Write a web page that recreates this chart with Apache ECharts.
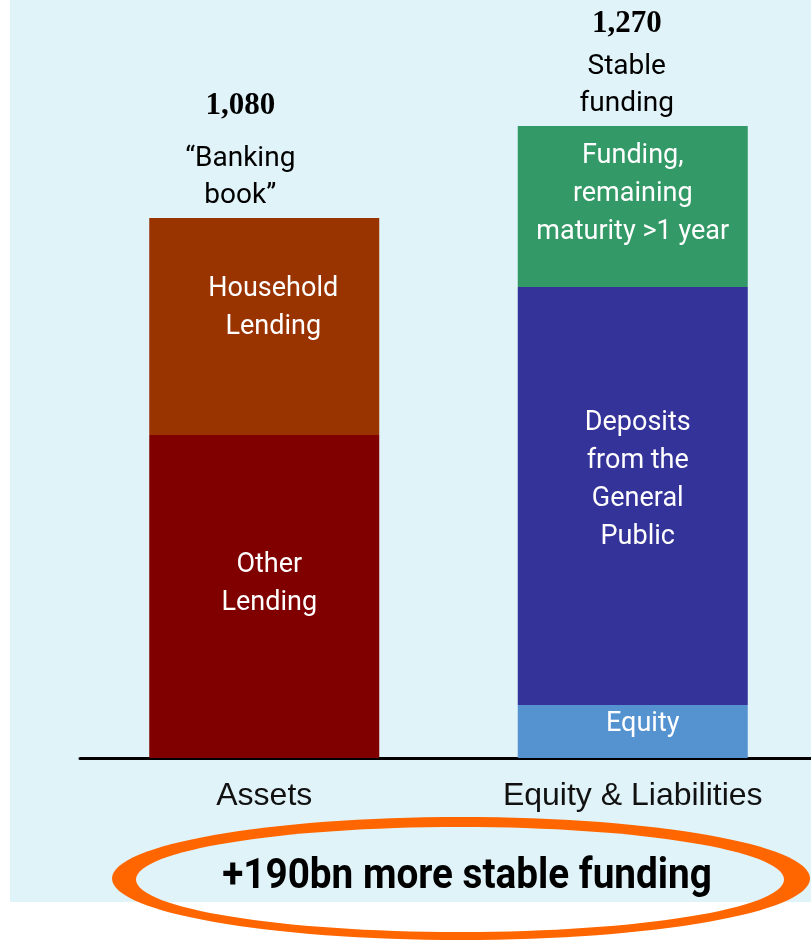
<!DOCTYPE html>
<html>
<head>
<meta charset="utf-8">
<script src="https://cdn.jsdelivr.net/npm/echarts@6/dist/echarts.min.js"></script>
<style>
  html, body { margin: 0; padding: 0; background: #fff; overflow: hidden; }
  #main { width: 820px; height: 941px; }
</style>
</head>
<body>
<div id="main"></div>
<script>
// balance sheet columns
const categories = ['Assets', 'Equity & Liabilities'];
const totals = ['1,080', '1,270'];
const totalCaptions = ['\u201cBanking\nbook\u201d', 'Stable\nfunding'];

// stacked segments, bottom to top (bn)
const otherLending = [646, '-'];
const householdLending = [434, '-'];
const equity = ['-', 106];
const deposits = ['-', 836];
const longFunding = ['-', 322];

const segmentNames = ['Other\nLending', 'Household\nLending', 'Equity',
  'Deposits\nfrom the\nGeneral\nPublic', 'Funding,\nremaining\nmaturity >1 year'];
const callout = '+190bn more stable funding';

const BG = '#e0f3f8';
const sansFont = 'Roboto, "Liberation Sans", sans-serif';

function num(v) { return v === '-' ? 0 : v; }
const stackTops = categories.map(function (c, i) {
  return num(otherLending[i]) + num(householdLending[i]) + num(equity[i]) +
    num(deposits[i]) + num(longFunding[i]);
});

function inner(text, offset) {
  return {
    show: true, position: 'inside', color: '#fff', formatter: text,
    fontFamily: sansFont, fontSize: 27, lineHeight: 38, offset: offset
  };
}

// bold total + caption sitting on top of each stack
const topLabelStyle = [{ firstLine: 69, dx: -24 }, { firstLine: 49, dx: -6 }];
const topLabels = stackTops.map(function (v, i) {
  return {
    value: v,
    label: {
      show: true, position: 'top', distance: 4, offset: [topLabelStyle[i].dx, 0],
      formatter: '{n|' + totals[i] + '}\n' +
        totalCaptions[i].split('\n').map(function (s) { return '{t|' + s + '}'; }).join('\n'),
      rich: {
        n: { fontFamily: '"Liberation Serif", serif', fontWeight: 'bold', fontSize: 31,
             color: '#000', lineHeight: topLabelStyle[i].firstLine },
        t: { fontFamily: sansFont, fontSize: 28, color: '#000', lineHeight: 37 }
      }
    }
  };
});

const chart = echarts.init(document.getElementById('main'));
chart.setOption({
  animation: false,
  backgroundColor: '#fff',
  grid: { left: 80, width: 737, top: 58, bottom: 183 },
  xAxis: {
    type: 'category', data: categories,
    axisLine: { lineStyle: { color: '#000', width: 3 } },
    axisTick: { show: false },
    axisLabel: { color: '#111', fontFamily: '"Liberation Sans", Arial, sans-serif',
                 fontSize: 32, margin: 22 }
  },
  yAxis: { type: 'value', min: 0, max: 1400, show: false, splitLine: { show: false } },
  series: [
    { name: 'other', type: 'bar', stack: 'bs', barWidth: 230, data: otherLending,
      itemStyle: { color: '#800000' }, label: inner(segmentNames[0], [5, -12]) },
    { name: 'household', type: 'bar', stack: 'bs', barWidth: 230, data: householdLending,
      itemStyle: { color: '#993300' }, label: inner(segmentNames[1], [9, -18]) },
    { name: 'equity', type: 'bar', stack: 'bs', barWidth: 230, data: equity,
      itemStyle: { color: '#5593d0' }, label: inner(segmentNames[2], [10, -7]) },
    { name: 'deposits', type: 'bar', stack: 'bs', barWidth: 230, data: deposits,
      itemStyle: { color: '#333399' }, label: inner(segmentNames[3], [5, -16]) },
    { name: 'funding', type: 'bar', stack: 'bs', barWidth: 230, data: longFunding,
      itemStyle: { color: '#339966' }, label: inner(segmentNames[4], [0, -12]) },
    { name: 'totals', type: 'scatter', symbolSize: 0, silent: true, data: topLabels,
      itemStyle: { opacity: 1 } }
  ],
  graphic: [
    { type: 'rect', z: -10, silent: true, shape: { x: 10, y: 0, width: 810, height: 902 },
      style: { fill: BG } },
    // hand-drawn orange ring round the callout
    { type: 'ellipse', z: 10, silent: true, shape: { cx: 461, cy: 878.5, rx: 349, ry: 61.5 },
      style: { fill: '#ff6600' } },
    { type: 'ellipse', z: 11, silent: true, shape: { cx: 460, cy: 879.5, rx: 324, ry: 52.5 },
      style: { fill: new echarts.graphic.LinearGradient(0, 0, 0, 1, [
        { offset: 0, color: BG }, { offset: 0.716, color: BG },
        { offset: 0.716, color: '#fff' }, { offset: 1, color: '#fff' }]) } },
    { type: 'text', z: 12, silent: true, x: 467, y: 877, scaleX: 0.9,
      style: { text: callout, x: 0, y: 0, align: 'center', verticalAlign: 'middle',
               fontFamily: sansFont, fontWeight: 'bold', fontSize: 43, fill: '#000' } }
  ]
});
</script>
</body>
</html>
